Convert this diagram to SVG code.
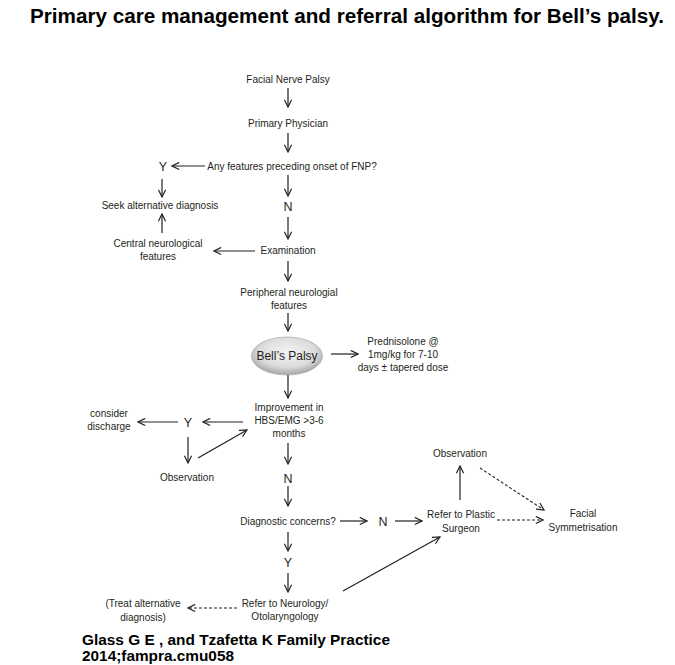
<svg xmlns="http://www.w3.org/2000/svg" width="675" height="665" viewBox="0 0 675 665">
<style>
.t{font-family:"Liberation Sans",Arial,sans-serif;font-size:10px;fill:#231f20;text-anchor:middle}
.yn{font-family:"Liberation Sans",Arial,sans-serif;font-size:12.5px;fill:#231f20;text-anchor:middle}
.h{font-family:"Liberation Sans",Arial,sans-serif;font-weight:bold;fill:#000}
.c{stroke:#231f20;stroke-width:1.2;fill:none;marker-end:url(#ah)}
.d{stroke:#231f20;stroke-width:1.1;fill:none;stroke-dasharray:3,2;marker-end:url(#ah)}
</style>
<defs>
<marker id="ah" viewBox="0 0 10 10" refX="9" refY="5" markerWidth="9" markerHeight="9" markerUnits="userSpaceOnUse" orient="auto">
<path d="M1,1 L9,5 L1,9" fill="none" stroke="#231f20" stroke-width="1.3"/>
</marker>
<radialGradient id="eg" cx="0.5" cy="0.4" r="0.6">
<stop offset="0" stop-color="#f4f4f4"/>
<stop offset="0.65" stop-color="#dcdcdc"/>
<stop offset="1" stop-color="#a4a4a4"/>
</radialGradient>
</defs>
<rect width="675" height="665" fill="#fff"/>
<text class="h" x="30" y="23" font-size="20" textLength="634" lengthAdjust="spacingAndGlyphs">Primary care management and referral algorithm for Bell’s palsy.</text>

<g id="n-fnp"><text class="t" x="288" y="83">Facial Nerve Palsy</text></g>
<g id="n-pp"><text class="t" x="288" y="127">Primary Physician</text></g>
<g id="n-any"><text class="t" x="292" y="170">Any features preceding onset of FNP?</text></g>
<g id="n-y1"><text class="yn" x="163" y="171">Y</text></g>
<g id="n-n1"><text class="yn" x="288" y="211">N</text></g>
<g id="n-seek"><text class="t" x="160" y="209">Seek alternative diagnosis</text></g>
<g id="n-central"><text class="t" x="158" y="247">Central neurological</text><text class="t" x="158" y="260">features</text></g>
<g id="n-exam"><text class="t" x="288" y="254">Examination</text></g>
<g id="n-periph"><text class="t" x="289" y="296">Peripheral neurologial</text><text class="t" x="289" y="309">features</text></g>
<g id="n-bell"><ellipse cx="287" cy="356" rx="35.5" ry="19" fill="url(#eg)" stroke="#b0b0b0" stroke-width="0.8"/><text x="287" y="360" font-family="'Liberation Sans',Arial,sans-serif" font-size="12" fill="#231f20" text-anchor="middle">Bell’s Palsy</text></g>
<g id="n-pred"><text class="t" x="403" y="345">Prednisolone @</text><text class="t" x="403" y="358">1mg/kg for 7-10</text><text class="t" x="403" y="371">days ± tapered dose</text></g>
<g id="n-impr"><text class="t" x="289" y="411">Improvement in</text><text class="t" x="289" y="424">HBS/EMG &gt;3-6</text><text class="t" x="289" y="437">months</text></g>
<g id="n-y2"><text class="yn" x="188" y="427">Y</text></g>
<g id="n-disc"><text class="t" x="109" y="417">consider</text><text class="t" x="109" y="430">discharge</text></g>
<g id="n-obs1"><text class="t" x="187" y="481">Observation</text></g>
<g id="n-n2"><text class="yn" x="288" y="483">N</text></g>
<g id="n-diag"><text class="t" x="288" y="525">Diagnostic concerns?</text></g>
<g id="n-n3"><text class="yn" x="383" y="526">N</text></g>
<g id="n-plastic"><text class="t" x="461" y="518">Refer to Plastic</text><text class="t" x="461" y="532">Surgeon</text></g>
<g id="n-obs2"><text class="t" x="460" y="457">Observation</text></g>
<g id="n-sym"><text class="t" x="583" y="517">Facial</text><text class="t" x="583" y="531">Symmetrisation</text></g>
<g id="n-y3"><text class="yn" x="288" y="567">Y</text></g>
<g id="n-neuro"><text class="t" x="285" y="607">Refer to Neurology/</text><text class="t" x="285" y="620">Otolaryngology</text></g>
<g id="n-treat"><text class="t" x="143" y="607">(Treat alternative</text><text class="t" x="143" y="621">diagnosis)</text></g>

<g id="connectors">
<path class="c" d="M288,88 V107"/>
<path class="c" d="M288,133 V152"/>
<path class="c" d="M205,166 H172"/>
<path class="c" d="M288,175 V196"/>
<path class="c" d="M162,179 V197"/>
<path class="c" d="M162,233 V214"/>
<path class="c" d="M288,217 V239"/>
<path class="c" d="M255,251 H214"/>
<path class="c" d="M288,261 V281"/>
<path class="c" d="M288,313 V331"/>
<path class="c" d="M331,354 H358"/>
<path class="c" d="M288,375 V398"/>
<path class="c" d="M243,422 H203"/>
<path class="c" d="M178,422 H138"/>
<path class="c" d="M188,437 V463"/>
<path class="c" d="M198,458 L247,430"/>
<path class="c" d="M288,443 V464"/>
<path class="c" d="M288,486 V506"/>
<path class="c" d="M340,521 H367"/>
<path class="c" d="M395,521 H422"/>
<path class="c" d="M460,500 V466"/>
<path class="d" d="M480,468 L544,510"/>
<path class="d" d="M497,520 H543"/>
<path class="c" d="M288,532 V551"/>
<path class="c" d="M288,573 V592"/>
<path class="c" d="M343,591 L440,537"/>
<path class="d" d="M237,608 H188"/>
</g>

<text class="h" x="82" y="645" font-size="14.5" textLength="308" lengthAdjust="spacingAndGlyphs">Glass G E , and Tzafetta K Family Practice</text>
<text class="h" x="82" y="661" font-size="14.5" textLength="152" lengthAdjust="spacingAndGlyphs">2014;fampra.cmu058</text>
</svg>
